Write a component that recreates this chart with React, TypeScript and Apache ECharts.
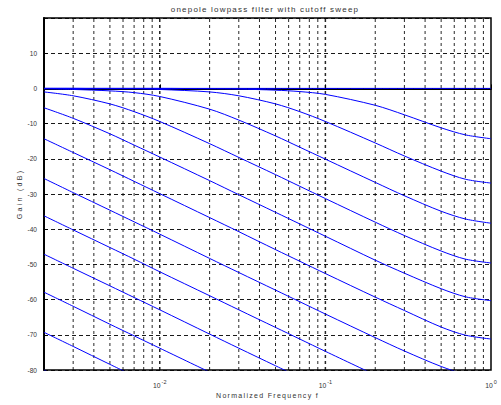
import { useEffect, useRef } from "react";
import * as echarts from "echarts";

// Normalized frequency sample points (1 = Nyquist)
const freqs = [0.002, 0.003, 0.005, 0.007, 0.01, 0.02, 0.03, 0.05, 0.07, 0.1, 0.2, 0.3, 0.5, 0.7, 1.0];

// Gain (dB) of the one-pole lowpass for each cutoff setting, highest cutoff first
const gainFlat = [0, 0, 0, 0, 0, 0, 0, 0, 0, 0, 0, 0, 0, 0, 0];
const gainCut1 = [0, 0, 0, 0, 0, -0.1, -0.2, -0.5, -0.9, -1.7, -4.8, -7.5, -11.2, -13.2, -14.3];
const gainCut2 = [0, 0, -0.1, -0.1, -0.3, -1.0, -2.1, -4.4, -6.6, -9.4, -15.5, -19.2, -23.5, -25.8, -26.9];
const gainCut3 = [-0.1, -0.3, -0.7, -1.2, -2.3, -5.9, -9.0, -13.5, -16.7, -20.1, -26.7, -30.5, -34.9, -37.1, -38.3];
const gainCut4 = [-1.0, -2.1, -4.4, -6.6, -9.4, -15.7, -19.6, -24.5, -27.8, -31.3, -38.0, -41.8, -46.2, -48.5, -49.6];
const gainCut5 = [-5.5, -8.5, -12.9, -16.1, -19.5, -26.2, -30.2, -35.2, -38.5, -42.0, -48.8, -52.5, -56.9, -59.2, -60.3];
const gainCut6 = [-14.3, -18.2, -23.1, -26.4, -29.9, -36.7, -40.7, -45.8, -49.1, -52.6, -59.3, -63.1, -67.8, -70.1, -71.2];
const gainCut7 = [-25.6, -29.6, -34.6, -37.9, -41.4, -48.3, -52.3, -57.3, -60.6, -64.1, -70.8, -74.6, -79.0, -81.2, -82.4];
const gainCut8 = [-36.2, -40.2, -45.2, -48.5, -52.1, -58.9, -62.9, -67.9, -71.2, -74.7, -81.4];
const gainCut9 = [-47.1, -51.1, -56.1, -59.4, -62.9, -69.8, -73.8, -78.8, -82.1];
const gainCut10 = [-57.9, -61.9, -67.0, -70.3, -73.8, -80.6];
const gainCut11 = [-69.3, -73.3, -78.4, -81.7];
const gainCut12 = [-80.0, -84.0];

const curves = [
  gainFlat, gainCut1, gainCut2, gainCut3, gainCut4, gainCut5, gainCut6,
  gainCut7, gainCut8, gainCut9, gainCut10, gainCut11, gainCut12,
];

// Vertical grid positions on the log frequency axis
const freqGrid = [
  0.003, 0.004, 0.005, 0.006, 0.007, 0.008, 0.009,
  0.01, 0.02, 0.03, 0.04, 0.05, 0.06, 0.07, 0.08, 0.09,
  0.1, 0.2, 0.3, 0.4, 0.5, 0.6, 0.7, 0.8, 0.9,
];

const Y_MIN = -80;
const Y_MAX = 20;

const titleText = "onepole lowpass filter with cutoff sweep";
const xName = "Normalized Frequency f";
const yName = "Gain (dB)";

const FONT = "Liberation Sans, Arial, sans-serif";
const TEXT = "#333";

// wide tracking for the title and axis names (SVG text)
const css = `
#gain-chart text[style*=" 8px"], #gain-chart text[style*=":8px"], #gain-chart text[font-size="8"] { letter-spacing: 1.2px; }
#gain-chart text[style*=" 7px"], #gain-chart text[style*=":7px"], #gain-chart text[font-size="7"] { letter-spacing: 1.3px; }
#gain-chart text[style*=" 7.2px"], #gain-chart text[style*=":7.2px"], #gain-chart text[font-size="7.2"] { letter-spacing: 2.2px; }
`;

export default function App() {
  const ref = useRef<HTMLDivElement>(null);

  useEffect(() => {
    const chart = echarts.init(ref.current!, null, { renderer: "svg" });

    const gridSeries = freqGrid.map((f) => {
      const decade = Math.abs(Math.log10(f) - Math.round(Math.log10(f))) < 1e-6;
      return {
        type: "line",
        data: [
          [f, Y_MIN],
          [f, Y_MAX],
        ],
        showSymbol: false,
        silent: true,
        z: 1,
        lineStyle: { color: "#000", width: decade ? 1.5 : 1, type: [3, 3], opacity: 0.85 },
      };
    });

    const curveSeries = curves.map((gains) => ({
      type: "line",
      data: gains.map((g, k) => [freqs[k], g]),
      showSymbol: false,
      smooth: 0.3,
      clip: true,
      z: 3,
      lineStyle: { color: "#0000ff", width: 1 },
    }));

    chart.setOption({
      animation: false,
      backgroundColor: "#fff",
      title: {
        text: titleText,
        left: 265,
        textAlign: "center",
        top: 5,
        padding: 0,
        textStyle: { fontSize: 8, lineHeight: 9, fontWeight: "normal", color: TEXT, fontFamily: FONT },
      },
      grid: {
        left: 44,
        right: 10,
        top: 18,
        bottom: 35,
        show: true,
        borderColor: "#000",
        borderWidth: 1.5,
      },
      xAxis: {
        type: "log",
        logBase: 10,
        min: 0.002,
        max: 1,
        name: xName,
        nameLocation: "middle",
        nameGap: 22,
        nameMoveOverlap: false,
        nameTextStyle: { fontSize: 7, color: TEXT, fontFamily: FONT },
        axisLine: { show: true, lineStyle: { color: "#000", width: 2 } },
        axisTick: { show: true, inside: true, length: 4, lineStyle: { color: "#000" } },
        splitLine: { show: false },
        axisLabel: {
          margin: 9,
          formatter: (v: number) => {
            const e = Math.log10(v);
            const r = Math.round(e);
            if (Math.abs(e - r) > 1e-6) return "";
            return `{b|10}{s|${r}}`;
          },
          rich: {
            b: { fontSize: 6.8, color: TEXT, fontFamily: FONT },
            s: { fontSize: 5.5, color: TEXT, fontFamily: FONT, padding: [0, 0, 6, 1] },
          },
        },
      },
      yAxis: {
        type: "value",
        min: Y_MIN,
        max: Y_MAX,
        interval: 10,
        name: yName,
        nameLocation: "middle",
        nameGap: 21,
        nameMoveOverlap: false,
        nameTextStyle: { fontSize: 7.2, color: TEXT, fontFamily: FONT },
        axisLine: { show: true, lineStyle: { color: "#000", width: 2 } },
        axisTick: { show: true, inside: true, length: 4, lineStyle: { color: "#000" } },
        splitLine: { show: true, lineStyle: { color: "#000", width: 1, type: [4, 3], opacity: 0.9 } },
        axisLabel: {
          margin: 7,
          fontSize: 6.5,
          color: TEXT,
          fontFamily: FONT,
          formatter: (v: number) => (v === Y_MAX ? "" : String(v)),
        },
      },
      series: [...gridSeries, ...curveSeries],
    });

    return () => chart.dispose();
  }, []);

  return (
    <>
      <style>{css}</style>
      <div
        id="gain-chart"
        ref={ref}
        style={{ position: "fixed", left: 0, top: 0, width: 501, height: 405 }}
      />
    </>
  );
}
